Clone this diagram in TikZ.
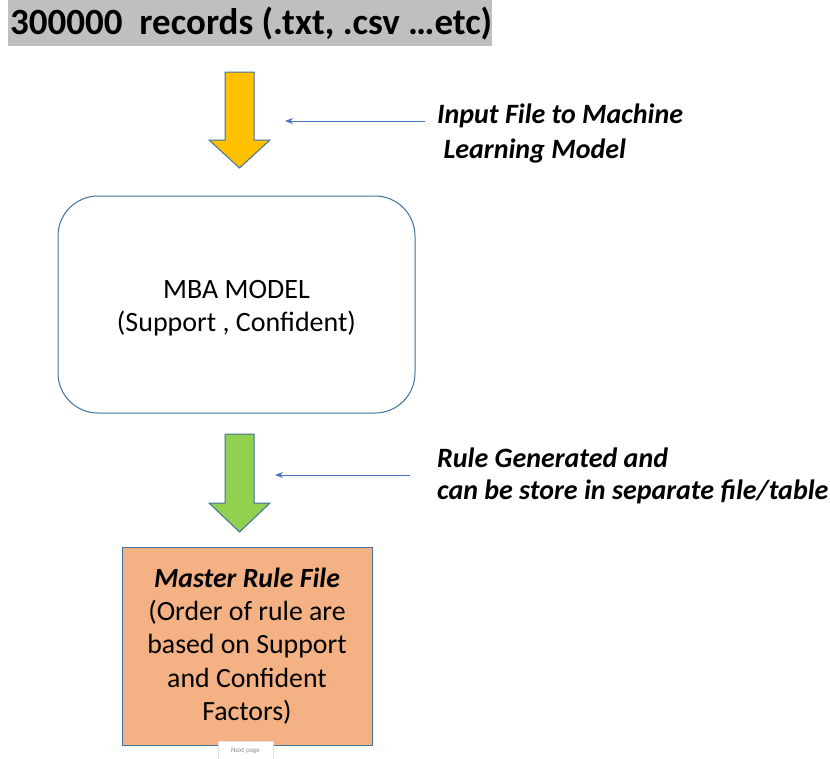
\documentclass[tikz,border=0pt]{standalone}
\usepackage{fontspec}
\setmainfont{Carlito}
\usetikzlibrary{arrows.meta}
\definecolor{titlegray}{HTML}{BFBFBF}
\definecolor{amber}{HTML}{FFC000}
\definecolor{leaf}{HTML}{92D050}
\definecolor{peach}{HTML}{F4B183}
\definecolor{edgeblue}{HTML}{4472C4}
\definecolor{outline}{HTML}{41719C}
\tikzset{
  bigarrow/.style={draw=outline, line width=1pt, line join=miter},
  pointer/.style={draw=edgeblue, line width=0.8pt, -{Stealth[length=8pt,width=6pt]}},
  note/.style={anchor=north west, align=left, inner sep=0pt,
    font=\fontsize{28}{35}\selectfont\bfseries\itshape},
}
\begin{document}
\begin{tikzpicture}[x=1pt,y=-1pt]
\useasboundingbox (0,0) rectangle (830,758);
\fill[white] (0,0) rectangle (830,758);

% heading on grey band
\fill[titlegray] (8,0) rectangle (492,46);
\node[anchor=west, inner sep=0pt, font=\fontsize{37}{40}\selectfont\bfseries]
  (title) at (10,24) {300000\ \ records (.txt, .csv …etc)};

% yellow block arrow
\draw[bigarrow, fill=amber] (225,72) -- (254,72) -- (254,140) -- (270,140)
  -- (239.5,168) -- (209,140) -- (225,140) -- cycle;

% model box and its caption
\node[draw=outline, line width=1pt, rounded corners=40pt, minimum width=357pt,
  minimum height=217pt] (model) at (236.5,304.5) {};
\node[align=center, font=\fontsize{28}{33}\selectfont]
  (modeltext) at ([yshift=-4pt]model.center) {MBA MODEL\\(Support , Confident)};

% green block arrow
\draw[bigarrow, fill=leaf] (225,434) -- (254,434) -- (254,503) -- (270,503)
  -- (239.5,532) -- (209,503) -- (225,503) -- cycle;

% master rule file box
\node[draw=outline, line width=1pt, fill=peach, minimum width=250pt,
  minimum height=198pt, align=center, font=\fontsize{27.8}{33.3}\selectfont]
  (master) at (247,646) {\textbf{\textit{Master Rule File}}\\(Order of rule are\\based on Support\\and Confident\\Factors)};

% side notes with pointers
\node[note] (n1) at (437,103.5) {Input File to Machine\\\ Learning Model};
\coordinate (p1s) at (425,121);
\coordinate (p1e) at (285,121);
\draw[pointer] (p1s) -- (p1e);

\node[note, font=\fontsize{28}{32}\selectfont\bfseries\itshape] (n2) at (437,448)
  {Rule Generated and\\can be store in separate file/table};
\coordinate (p2s) at (410,475);
\coordinate (p2e) at (275,475);
\draw[pointer] (p2s) -- (p2e);

% page tab
\node[draw=black!12, fill=white, minimum width=55pt, minimum height=20pt,
  anchor=north, inner sep=0pt, text=black!45, font=\fontsize{7}{8}\selectfont]
  (tab) at (245.5,741) {Next page};
\end{tikzpicture}
\end{document}
